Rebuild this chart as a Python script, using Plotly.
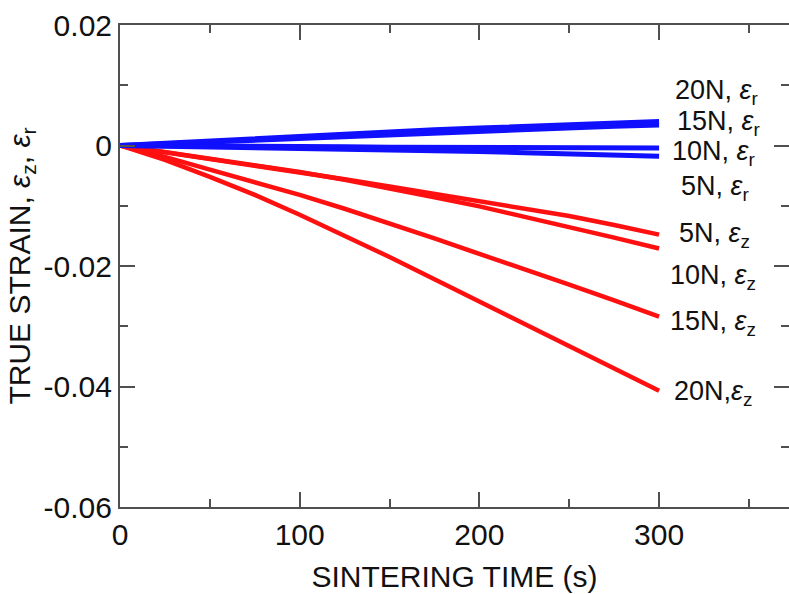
import plotly.graph_objects as go

# ---- data ----
time_s = [0, 25, 50, 75, 100, 125, 150, 175, 200, 225, 250, 275, 300]

strain_z_5N = [0, -0.0011, -0.0022, -0.0033, -0.0044, -0.0056, -0.0068, -0.0080, -0.0092, -0.0104, -0.0117, -0.0132, -0.0148]
strain_z_10N = [0, -0.0011, -0.0022, -0.0033, -0.0044, -0.0057, -0.0071, -0.0086, -0.0101, -0.0118, -0.0135, -0.0153, -0.0171]
strain_z_15N = [0, -0.0019, -0.0040, -0.0061, -0.0082, -0.0105, -0.0129, -0.0154, -0.0180, -0.0205, -0.0231, -0.0257, -0.0284]
strain_z_20N = [0, -0.0024, -0.0052, -0.0082, -0.0115, -0.0149, -0.0185, -0.0222, -0.0259, -0.0296, -0.0333, -0.0370, -0.0407]

strain_r_5N = [0, -0.0001, -0.0002, -0.0003, -0.0004, -0.0005, -0.0007, -0.0008, -0.0010, -0.0012, -0.0014, -0.0016, -0.0018]
strain_r_10N = [0, 0.0000, -0.0001, -0.0001, -0.0002, -0.0002, -0.0003, -0.0003, -0.0003, -0.0003, -0.0004, -0.0004, -0.0004]
strain_r_15N = [0, 0.0003, 0.0006, 0.0009, 0.0012, 0.0016, 0.0019, 0.0022, 0.0025, 0.0028, 0.0030, 0.0032, 0.0034]
strain_r_20N = [0, 0.0004, 0.0007, 0.0011, 0.0014, 0.0018, 0.0022, 0.0026, 0.0029, 0.0032, 0.0035, 0.0038, 0.0040]

y_tickvals = [0.02, 0, -0.02, -0.04, -0.06]
y_ticktext = ["0.02", "0", "-0.02", "-0.04", "-0.06"]
x_tickvals = [0, 100, 200, 300]
x_ticktext = ["0", "100", "200", "300"]

label_texts = ["20N, <i>ε</i><sub>r</sub>", "15N, <i>ε</i><sub>r</sub>", "10N, <i>ε</i><sub>r</sub>",
               "5N, <i>ε</i><sub>r</sub>", "5N, <i>ε</i><sub>z</sub>", "10N, <i>ε</i><sub>z</sub>",
               "15N, <i>ε</i><sub>z</sub>", "20N,<i>ε</i><sub>z</sub>"]
label_x = [308, 309, 306, 311, 310, 305, 305, 307]
label_y = [0.0088, 0.0037, -0.0012, -0.0071, -0.0148, -0.0219, -0.0295, -0.0410]

RED = "#ff1010"
BLUE = "#1010ff"
AX = "#505050"
FONT = "Liberation Sans, Arial, sans-serif"

fig = go.Figure()
for ys in [strain_z_5N, strain_z_10N, strain_z_15N, strain_z_20N]:
    fig.add_trace(go.Scatter(x=time_s, y=ys, mode="lines",
                             line=dict(color=RED, width=4.5), showlegend=False))
for ys in [strain_r_5N, strain_r_10N, strain_r_15N, strain_r_20N]:
    fig.add_trace(go.Scatter(x=time_s, y=ys, mode="lines",
                             line=dict(color=BLUE, width=5), showlegend=False))

for t, lx, ly in zip(label_texts, label_x, label_y):
    fig.add_annotation(x=lx, y=ly, xref="x", yref="y", text=t, showarrow=False,
                       xanchor="left", yanchor="middle",
                       font=dict(family=FONT, size=27, color="#111"))

fig.update_layout(
    width=789, height=594,
    margin=dict(l=120, r=0, t=25, b=87),
    paper_bgcolor="white", plot_bgcolor="white",
    font=dict(family=FONT, color="#111"),
    xaxis=dict(range=[0, 372.3], showgrid=False, zeroline=False,
               showline=True, linecolor=AX, linewidth=2, mirror="ticks",
               ticks="inside", ticklen=15, tickwidth=2, tickcolor=AX,
               tickvals=x_tickvals, ticktext=x_ticktext,
               tickfont=dict(size=30, family=FONT, color="#111"),
               minor=dict(dtick=50, tick0=0, ticks="inside", ticklen=8, tickwidth=2, tickcolor=AX),
               title=dict(text="SINTERING TIME (s)", standoff=16,
                          font=dict(size=30, family=FONT, color="#111"))),
    yaxis=dict(range=[-0.06, 0.02], showgrid=False, zeroline=False,
               showline=True, linecolor=AX, linewidth=2, mirror=False,
               ticks="inside", ticklen=15, tickwidth=2, tickcolor=AX,
               tickvals=y_tickvals, ticktext=y_ticktext,
               tickfont=dict(size=30, family=FONT, color="#111"),
               minor=dict(dtick=0.01, tick0=0, ticks="inside", ticklen=8, tickwidth=2, tickcolor=AX),
               title=dict(text="TRUE STRAIN, <i>ε</i><sub>z</sub>, <i>ε</i><sub>r</sub>", standoff=4,
                          font=dict(size=30, family=FONT, color="#111"))),
    yaxis2=dict(range=[-0.06, 0.02], overlaying="y", side="right", anchor="x",
                showgrid=False, zeroline=False, showline=False, showticklabels=False,
                ticks="inside", ticklen=15, tickwidth=2, tickcolor=AX,
                tickvals=y_tickvals,
                minor=dict(dtick=0.01, tick0=0, ticks="inside", ticklen=8, tickwidth=2, tickcolor=AX)),
)
# invisible empty trace to activate the right axis
fig.add_trace(go.Scatter(x=[], y=[], yaxis="y2", showlegend=False))

fig.write_html("out.html")
